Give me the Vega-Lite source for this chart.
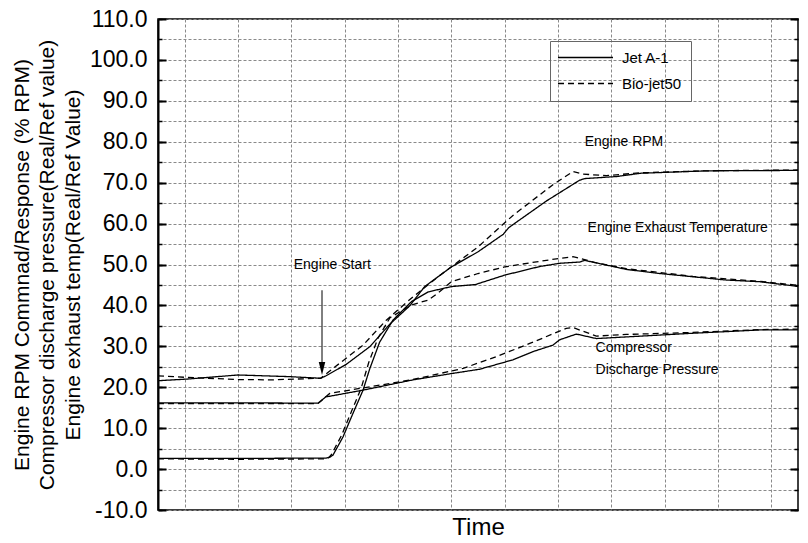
{
  "$schema": "https://vega.github.io/schema/vega-lite/v6.json",
  "width": 640,
  "height": 491,
  "autosize": "none",
  "padding": {"left": 158, "top": 19, "right": 10, "bottom": 33},
  "background": "white",
  "config": {
    "font": "Liberation Sans",
    "view": {"stroke": "black", "strokeWidth": 1.5},
    "axis": {
      "labelColor": "black",
      "titleColor": "black",
      "tickColor": "black",
      "domainColor": "black",
      "gridColor": "#8a8a8a",
      "gridDash": [3, 2],
      "gridWidth": 1,
      "titleFontWeight": "normal"
    }
  },
  "datasets": {
    "curves": [
      {"t": 0, "v": 21.6, "measure": "RPM", "fuel": "Jet A-1"},
      {"t": 1.1, "v": 22.0, "measure": "RPM", "fuel": "Jet A-1"},
      {"t": 3.0, "v": 23.0, "measure": "RPM", "fuel": "Jet A-1"},
      {"t": 4.9, "v": 22.6, "measure": "RPM", "fuel": "Jet A-1"},
      {"t": 6.1, "v": 22.2, "measure": "RPM", "fuel": "Jet A-1"},
      {"t": 6.3, "v": 22.8, "measure": "RPM", "fuel": "Jet A-1"},
      {"t": 7.06, "v": 25.6, "measure": "RPM", "fuel": "Jet A-1"},
      {"t": 7.94, "v": 29.9, "measure": "RPM", "fuel": "Jet A-1"},
      {"t": 8.69, "v": 35.4, "measure": "RPM", "fuel": "Jet A-1"},
      {"t": 9.44, "v": 39.9, "measure": "RPM", "fuel": "Jet A-1"},
      {"t": 10.0, "v": 44.6, "measure": "RPM", "fuel": "Jet A-1"},
      {"t": 11.0, "v": 49.4, "measure": "RPM", "fuel": "Jet A-1"},
      {"t": 12.0, "v": 53.1, "measure": "RPM", "fuel": "Jet A-1"},
      {"t": 12.95, "v": 57.4, "measure": "RPM", "fuel": "Jet A-1"},
      {"t": 13.15, "v": 59.0, "measure": "RPM", "fuel": "Jet A-1"},
      {"t": 14.56, "v": 65.5, "measure": "RPM", "fuel": "Jet A-1"},
      {"t": 15.81, "v": 70.6, "measure": "RPM", "fuel": "Jet A-1"},
      {"t": 16.0, "v": 71.0, "measure": "RPM", "fuel": "Jet A-1"},
      {"t": 17.2, "v": 71.5, "measure": "RPM", "fuel": "Jet A-1"},
      {"t": 18.1, "v": 72.3, "measure": "RPM", "fuel": "Jet A-1"},
      {"t": 20.6, "v": 72.9, "measure": "RPM", "fuel": "Jet A-1"},
      {"t": 24, "v": 73.0, "measure": "RPM", "fuel": "Jet A-1"},

      {"t": 0, "v": 22.8, "measure": "RPM", "fuel": "Bio-jet50"},
      {"t": 1.1, "v": 22.4, "measure": "RPM", "fuel": "Bio-jet50"},
      {"t": 3.0, "v": 21.9, "measure": "RPM", "fuel": "Bio-jet50"},
      {"t": 4.26, "v": 21.8, "measure": "RPM", "fuel": "Bio-jet50"},
      {"t": 6.1, "v": 22.2, "measure": "RPM", "fuel": "Bio-jet50"},
      {"t": 6.8, "v": 25.8, "measure": "RPM", "fuel": "Bio-jet50"},
      {"t": 7.69, "v": 30.3, "measure": "RPM", "fuel": "Bio-jet50"},
      {"t": 8.56, "v": 36.4, "measure": "RPM", "fuel": "Bio-jet50"},
      {"t": 9.56, "v": 42.1, "measure": "RPM", "fuel": "Bio-jet50"},
      {"t": 10.5, "v": 47.0, "measure": "RPM", "fuel": "Bio-jet50"},
      {"t": 12.0, "v": 54.3, "measure": "RPM", "fuel": "Bio-jet50"},
      {"t": 13.31, "v": 62.0, "measure": "RPM", "fuel": "Bio-jet50"},
      {"t": 14.81, "v": 69.5, "measure": "RPM", "fuel": "Bio-jet50"},
      {"t": 15.56, "v": 72.7, "measure": "RPM", "fuel": "Bio-jet50"},
      {"t": 15.94, "v": 72.1, "measure": "RPM", "fuel": "Bio-jet50"},
      {"t": 16.81, "v": 71.7, "measure": "RPM", "fuel": "Bio-jet50"},
      {"t": 18.06, "v": 72.4, "measure": "RPM", "fuel": "Bio-jet50"},
      {"t": 20.56, "v": 72.9, "measure": "RPM", "fuel": "Bio-jet50"},
      {"t": 24, "v": 73.1, "measure": "RPM", "fuel": "Bio-jet50"},

      {"t": 0, "v": 2.6, "measure": "EGT", "fuel": "Jet A-1"},
      {"t": 3.0, "v": 2.6, "measure": "EGT", "fuel": "Jet A-1"},
      {"t": 6.3, "v": 2.7, "measure": "EGT", "fuel": "Jet A-1"},
      {"t": 6.44, "v": 2.9, "measure": "EGT", "fuel": "Jet A-1"},
      {"t": 6.56, "v": 3.4, "measure": "EGT", "fuel": "Jet A-1"},
      {"t": 6.94, "v": 7.9, "measure": "EGT", "fuel": "Jet A-1"},
      {"t": 7.31, "v": 13.6, "measure": "EGT", "fuel": "Jet A-1"},
      {"t": 7.69, "v": 19.3, "measure": "EGT", "fuel": "Jet A-1"},
      {"t": 7.94, "v": 24.5, "measure": "EGT", "fuel": "Jet A-1"},
      {"t": 8.31, "v": 31.0, "measure": "EGT", "fuel": "Jet A-1"},
      {"t": 8.81, "v": 36.4, "measure": "EGT", "fuel": "Jet A-1"},
      {"t": 9.5, "v": 40.9, "measure": "EGT", "fuel": "Jet A-1"},
      {"t": 10.13, "v": 43.3, "measure": "EGT", "fuel": "Jet A-1"},
      {"t": 11.0, "v": 44.6, "measure": "EGT", "fuel": "Jet A-1"},
      {"t": 11.9, "v": 45.1, "measure": "EGT", "fuel": "Jet A-1"},
      {"t": 13.0, "v": 47.4, "measure": "EGT", "fuel": "Jet A-1"},
      {"t": 14.31, "v": 49.5, "measure": "EGT", "fuel": "Jet A-1"},
      {"t": 15.06, "v": 50.3, "measure": "EGT", "fuel": "Jet A-1"},
      {"t": 15.81, "v": 50.6, "measure": "EGT", "fuel": "Jet A-1"},
      {"t": 16.0, "v": 51.0, "measure": "EGT", "fuel": "Jet A-1"},
      {"t": 16.44, "v": 50.4, "measure": "EGT", "fuel": "Jet A-1"},
      {"t": 17.56, "v": 48.8, "measure": "EGT", "fuel": "Jet A-1"},
      {"t": 18.81, "v": 47.8, "measure": "EGT", "fuel": "Jet A-1"},
      {"t": 20.06, "v": 47.0, "measure": "EGT", "fuel": "Jet A-1"},
      {"t": 21.31, "v": 46.2, "measure": "EGT", "fuel": "Jet A-1"},
      {"t": 22.56, "v": 45.8, "measure": "EGT", "fuel": "Jet A-1"},
      {"t": 23.81, "v": 44.8, "measure": "EGT", "fuel": "Jet A-1"},
      {"t": 24, "v": 44.6, "measure": "EGT", "fuel": "Jet A-1"},

      {"t": 0, "v": 2.5, "measure": "EGT", "fuel": "Bio-jet50"},
      {"t": 3.0, "v": 2.4, "measure": "EGT", "fuel": "Bio-jet50"},
      {"t": 6.3, "v": 2.5, "measure": "EGT", "fuel": "Bio-jet50"},
      {"t": 6.4, "v": 2.8, "measure": "EGT", "fuel": "Bio-jet50"},
      {"t": 6.5, "v": 3.5, "measure": "EGT", "fuel": "Bio-jet50"},
      {"t": 6.88, "v": 8.2, "measure": "EGT", "fuel": "Bio-jet50"},
      {"t": 7.25, "v": 14.0, "measure": "EGT", "fuel": "Bio-jet50"},
      {"t": 7.62, "v": 19.8, "measure": "EGT", "fuel": "Bio-jet50"},
      {"t": 7.9, "v": 26.0, "measure": "EGT", "fuel": "Bio-jet50"},
      {"t": 8.25, "v": 32.0, "measure": "EGT", "fuel": "Bio-jet50"},
      {"t": 8.7, "v": 37.0, "measure": "EGT", "fuel": "Bio-jet50"},
      {"t": 9.5, "v": 40.1, "measure": "EGT", "fuel": "Bio-jet50"},
      {"t": 10.13, "v": 41.3, "measure": "EGT", "fuel": "Bio-jet50"},
      {"t": 10.5, "v": 43.0, "measure": "EGT", "fuel": "Bio-jet50"},
      {"t": 11.0, "v": 45.8, "measure": "EGT", "fuel": "Bio-jet50"},
      {"t": 12.0, "v": 47.8, "measure": "EGT", "fuel": "Bio-jet50"},
      {"t": 13.0, "v": 49.4, "measure": "EGT", "fuel": "Bio-jet50"},
      {"t": 13.94, "v": 50.4, "measure": "EGT", "fuel": "Bio-jet50"},
      {"t": 15.06, "v": 51.5, "measure": "EGT", "fuel": "Bio-jet50"},
      {"t": 15.56, "v": 51.9, "measure": "EGT", "fuel": "Bio-jet50"},
      {"t": 16.0, "v": 51.2, "measure": "EGT", "fuel": "Bio-jet50"},
      {"t": 16.44, "v": 50.4, "measure": "EGT", "fuel": "Bio-jet50"},
      {"t": 17.56, "v": 49.0, "measure": "EGT", "fuel": "Bio-jet50"},
      {"t": 20.06, "v": 47.1, "measure": "EGT", "fuel": "Bio-jet50"},
      {"t": 22.56, "v": 45.9, "measure": "EGT", "fuel": "Bio-jet50"},
      {"t": 24, "v": 44.9, "measure": "EGT", "fuel": "Bio-jet50"},

      {"t": 0, "v": 16.2, "measure": "CDP", "fuel": "Jet A-1"},
      {"t": 3.0, "v": 16.2, "measure": "CDP", "fuel": "Jet A-1"},
      {"t": 6.0, "v": 16.1, "measure": "CDP", "fuel": "Jet A-1"},
      {"t": 6.3, "v": 17.7, "measure": "CDP", "fuel": "Jet A-1"},
      {"t": 6.44, "v": 17.8, "measure": "CDP", "fuel": "Jet A-1"},
      {"t": 7.69, "v": 19.3, "measure": "CDP", "fuel": "Jet A-1"},
      {"t": 9.56, "v": 21.8, "measure": "CDP", "fuel": "Jet A-1"},
      {"t": 11.06, "v": 23.4, "measure": "CDP", "fuel": "Jet A-1"},
      {"t": 12.06, "v": 24.4, "measure": "CDP", "fuel": "Jet A-1"},
      {"t": 13.31, "v": 26.7, "measure": "CDP", "fuel": "Jet A-1"},
      {"t": 14.06, "v": 28.7, "measure": "CDP", "fuel": "Jet A-1"},
      {"t": 14.81, "v": 30.3, "measure": "CDP", "fuel": "Jet A-1"},
      {"t": 15.06, "v": 31.6, "measure": "CDP", "fuel": "Jet A-1"},
      {"t": 15.69, "v": 33.0, "measure": "CDP", "fuel": "Jet A-1"},
      {"t": 16.44, "v": 31.9, "measure": "CDP", "fuel": "Jet A-1"},
      {"t": 17.56, "v": 32.3, "measure": "CDP", "fuel": "Jet A-1"},
      {"t": 20.06, "v": 33.2, "measure": "CDP", "fuel": "Jet A-1"},
      {"t": 22.56, "v": 34.0, "measure": "CDP", "fuel": "Jet A-1"},
      {"t": 24, "v": 34.0, "measure": "CDP", "fuel": "Jet A-1"},

      {"t": 0, "v": 16.0, "measure": "CDP", "fuel": "Bio-jet50"},
      {"t": 3.0, "v": 16.0, "measure": "CDP", "fuel": "Bio-jet50"},
      {"t": 6.0, "v": 16.0, "measure": "CDP", "fuel": "Bio-jet50"},
      {"t": 6.44, "v": 18.5, "measure": "CDP", "fuel": "Bio-jet50"},
      {"t": 8.31, "v": 20.5, "measure": "CDP", "fuel": "Bio-jet50"},
      {"t": 9.56, "v": 21.9, "measure": "CDP", "fuel": "Bio-jet50"},
      {"t": 11.44, "v": 24.6, "measure": "CDP", "fuel": "Bio-jet50"},
      {"t": 12.69, "v": 27.5, "measure": "CDP", "fuel": "Bio-jet50"},
      {"t": 13.94, "v": 30.7, "measure": "CDP", "fuel": "Bio-jet50"},
      {"t": 15.31, "v": 34.4, "measure": "CDP", "fuel": "Bio-jet50"},
      {"t": 15.56, "v": 34.6, "measure": "CDP", "fuel": "Bio-jet50"},
      {"t": 16.44, "v": 32.5, "measure": "CDP", "fuel": "Bio-jet50"},
      {"t": 17.56, "v": 32.9, "measure": "CDP", "fuel": "Bio-jet50"},
      {"t": 20.06, "v": 33.4, "measure": "CDP", "fuel": "Bio-jet50"},
      {"t": 22.56, "v": 34.1, "measure": "CDP", "fuel": "Bio-jet50"},
      {"t": 24, "v": 34.2, "measure": "CDP", "fuel": "Bio-jet50"}
    ],
    "labels": [
      {"t": 16.0, "v": 80.0, "label": "Engine RPM"},
      {"t": 16.11, "v": 58.8, "label": "Engine Exhaust Temperature"},
      {"t": 5.09, "v": 49.85, "label": "Engine Start"},
      {"t": 16.41, "v": 29.5, "label": "Compressor"},
      {"t": 16.41, "v": 24.2, "label": "Discharge Pressure"}
    ],
    "arrow": [
      {"t": 6.15, "top": 43.7, "bottom": 26.1, "head": 24.6}
    ]
  },
  "layer": [
    {
      "data": {"name": "curves"},
      "mark": {"type": "line", "color": "black", "strokeWidth": 1.3},
      "encoding": {
        "x": {
          "field": "t", "type": "quantitative",
          "scale": {"domain": [0, 24], "nice": false, "zero": false},
          "axis": {
            "orient": "bottom",
            "values": [1,2,3,4,5,6,7,8,9,10,11,12,13,14,15,16,17,18,19,20,21,22,23],
            "grid": true, "ticks": false, "labels": false, "domain": false,
            "title": "Time", "titleFontSize": 24, "titlePadding": 5
          }
        },
        "y": {
          "field": "v", "type": "quantitative",
          "scale": {"domain": [-10, 110], "nice": false, "zero": false},
          "axis": {
            "orient": "left",
            "values": [-10,-5,0,5,10,15,20,25,30,35,40,45,50,55,60,65,70,75,80,85,90,95,100,105,110],
            "grid": true,
            "labelExpr": "datum.value % 10 === 0 ? (datum.value < 0 ? '-' : '') + format(abs(datum.value), '.1f') : ''",
            "labelFontSize": 23, "labelPadding": 15,
            "tickSize": -4, "tickWidth": 1.5,
            "domain": true, "domainWidth": 2,
            "title": ["Engine RPM Commnad/Response (% RPM)", "Compressor discharge pressure(Real/Ref value)", "Engine exhaust temp(Real/Ref Value)"],
            "titleFontSize": 21, "titleLineHeight": 25.5, "titlePadding": 6
          }
        },
        "detail": {"field": "measure", "type": "nominal"},
        "strokeDash": {
          "field": "fuel", "type": "nominal",
          "scale": {"domain": ["Jet A-1", "Bio-jet50"], "range": [[1, 0], [6, 4]]},
          "legend": {
            "orient": "none", "legendX": 392, "legendY": 22,
            "title": null,
            "strokeColor": "#666666",
            "padding": 9,
            "symbolType": "M-5.5,0H5.5",
            "symbolSize": 100,
            "symbolStrokeWidth": 1.3,
            "symbolStrokeColor": "black",
            "symbolOffset": 19,
            "labelOffset": 29,
            "labelFontSize": 15,
            "labelColor": "black",
            "rowPadding": 10,
            "labelExpr": "datum.label + '\u00a0\u00a0\u00a0\u00a0\u00a0\u00a0\u00a0\u00a0\u00a0\u00a0\u00a0\u00a0\u00a0\u00a0\u00a0\u00a0'"
          }
        }
      }
    },
    {
      "data": {"name": "labels"},
      "mark": {"type": "text", "align": "left", "baseline": "middle", "fontSize": 14, "color": "black"},
      "encoding": {
        "x": {"field": "t", "type": "quantitative", "scale": {"domain": [0, 24], "nice": false, "zero": false}},
        "y": {
          "field": "v", "type": "quantitative",
          "scale": {"domain": [-10, 110], "nice": false, "zero": false},
          "axis": {
            "orient": "right",
            "values": [-10,-5,0,5,10,15,20,25,30,35,40,45,50,55,60,65,70,75,80,85,90,95,100,105,110],
            "grid": false, "labels": false, "domain": false, "title": null,
            "tickSize": -4, "tickWidth": 1.5
          }
        },
        "text": {"field": "label", "type": "nominal"}
      }
    },
    {
      "data": {"name": "arrow"},
      "mark": {"type": "rule", "color": "black", "strokeWidth": 1},
      "encoding": {
        "x": {"field": "t", "type": "quantitative", "scale": {"domain": [0, 24], "nice": false, "zero": false}},
        "y": {
          "field": "top", "type": "quantitative",
          "scale": {"domain": [-10, 110], "nice": false, "zero": false},
          "axis": {
            "orient": "left",
            "values": [-10,0,10,20,30,40,50,60,70,80,90,100,110],
            "grid": false, "labels": false, "domain": false, "title": null,
            "tickSize": -8, "tickWidth": 2
          }
        },
        "y2": {"field": "bottom"}
      }
    },
    {
      "data": {"name": "arrow"},
      "mark": {"type": "point", "shape": "M0,1L-0.5,-1L0.5,-1Z", "filled": true, "color": "black", "size": 169, "opacity": 1},
      "encoding": {
        "x": {"field": "t", "type": "quantitative", "scale": {"domain": [0, 24], "nice": false, "zero": false}},
        "y": {
          "field": "head", "type": "quantitative",
          "scale": {"domain": [-10, 110], "nice": false, "zero": false},
          "axis": {
            "orient": "right",
            "values": [-10,0,10,20,30,40,50,60,70,80,90,100,110],
            "grid": false, "labels": false, "domain": false, "title": null,
            "tickSize": -8, "tickWidth": 2
          }
        }
      }
    }
  ],
  "resolve": {"scale": {"y": "shared"}, "axis": {"y": "independent"}}
}
